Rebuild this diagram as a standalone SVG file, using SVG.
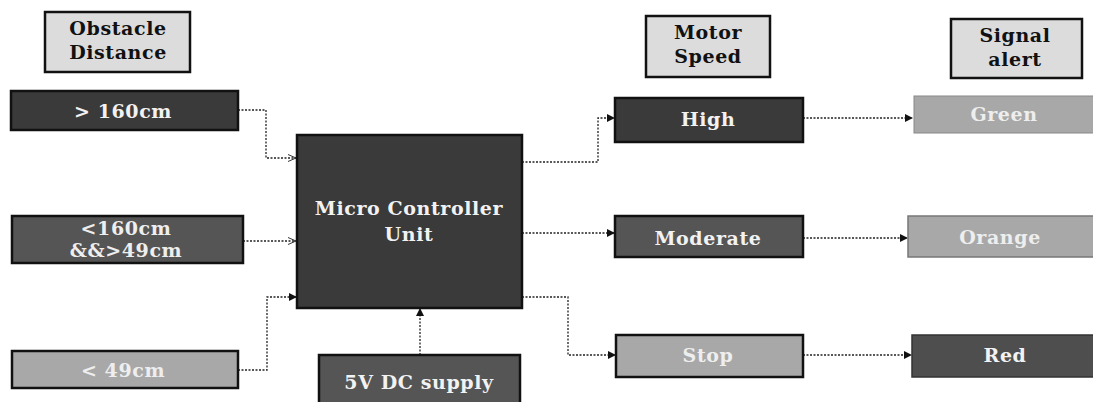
<svg xmlns="http://www.w3.org/2000/svg" width="1093" height="402" viewBox="0 0 1093 402">
<style>
.hdr{fill:#dcdcdc;stroke:#111;stroke-width:2.5}
.box{stroke:#111;stroke-width:2.5}
.d1{fill:#3a3a3a}
.d2{fill:#555555}
.lt{fill:#a8a8a8}
text{font-family:"DejaVu Serif","Liberation Serif",serif;font-weight:bold;text-anchor:middle;font-size:19px;letter-spacing:0.6px}
.tb{fill:#111}
.tw{fill:#f2f2f2}
.tg{fill:#eeeeee}
.conn path{fill:none;stroke:#222;stroke-width:1.3;stroke-dasharray:2 1.5}
</style>
<defs>
<marker id="arr" markerWidth="8" markerHeight="8" refX="7" refY="4" orient="auto" markerUnits="userSpaceOnUse">
<path d="M0,0 L8,4 L0,8 z" fill="#111"/>
</marker>
<marker id="open" markerWidth="9" markerHeight="8" refX="8" refY="4" orient="auto" markerUnits="userSpaceOnUse">
<path d="M0,0.5 L8,4 L0,7.5" fill="none" stroke="#333" stroke-width="1"/>
</marker>
</defs>
<rect width="1093" height="402" fill="#ffffff"/>
<g class="conn">
<path d="M238,110 H266 V158 H296" marker-end="url(#open)" stroke="#777"/>
<path d="M243,241 H296" marker-end="url(#open)"/>
<path d="M238,370 H267 V297 H296" marker-end="url(#arr)"/>
<path d="M420,355 V309" marker-end="url(#arr)"/>
<path d="M522,162 H598 V118 H614" marker-end="url(#arr)"/>
<path d="M522,233 H614" marker-end="url(#arr)"/>
<path d="M522,297 H568 V355 H615" marker-end="url(#arr)"/>
<path d="M803,118 H912" marker-end="url(#arr)"/>
<path d="M803,238 H907" marker-end="url(#arr)"/>
<path d="M803,355 H911" marker-end="url(#arr)"/>
</g>
<g id="obstacle-distance"><rect class="hdr" x="45" y="12" width="145" height="60"/><text class="tb" x="118" y="35">Obstacle</text><text class="tb" x="118" y="59">Distance</text></g>
<g id="gt160"><rect class="box d1" x="11" y="91" width="227" height="39"/><text class="tw" x="123" y="118">&gt; 160cm</text></g>
<g id="lt160"><rect class="box d2" x="12" y="216" width="231" height="47"/><text class="tg" x="126" y="235">&lt;160cm</text><text class="tg" x="126" y="257">&amp;&amp;&gt;49cm</text></g>
<g id="lt49"><rect class="box lt" x="12" y="351" width="226" height="37"/><text class="tg" x="123" y="377">&lt; 49cm</text></g>
<g id="mcu"><rect class="box d1" x="297" y="135" width="225" height="173"/><text class="tw" x="409" y="215">Micro Controller</text><text class="tw" x="409" y="241">Unit</text></g>
<g id="supply"><rect class="box d2" x="319" y="355" width="201" height="50"/><text class="tw" x="419" y="389">5V DC supply</text></g>
<g id="motor-speed"><rect class="hdr" x="646" y="16" width="124" height="61"/><text class="tb" x="708" y="39">Motor</text><text class="tb" x="708" y="63">Speed</text></g>
<g id="high"><rect class="box d1" x="615" y="98" width="188" height="44"/><text class="tw" x="708" y="126">High</text></g>
<g id="moderate"><rect class="box d2" x="615" y="216" width="188" height="41"/><text class="tw" x="708" y="245">Moderate</text></g>
<g id="stop"><rect class="box lt" x="616" y="335" width="187" height="42"/><text class="tg" x="708" y="362">Stop</text></g>
<g id="signal-alert"><rect class="hdr" x="951" y="19" width="131" height="59"/><text class="tb" x="1015" y="42">Signal</text><text class="tb" x="1015" y="66">alert</text></g>
<g id="green"><rect x="914" y="96" width="182" height="37" fill="#a8a8a8" stroke="#888" stroke-width="1"/><text class="tg" x="1004" y="121">Green</text></g>
<g id="orange"><rect x="908" y="216" width="188" height="41" fill="#a8a8a8" stroke="#777" stroke-width="1.5"/><text class="tg" x="1000" y="244">Orange</text></g>
<g id="red"><rect x="912" y="335" width="184" height="42" fill="#4e4e4e" stroke="#333" stroke-width="1.5"/><text class="tw" x="1005" y="362">Red</text></g>
</svg>
